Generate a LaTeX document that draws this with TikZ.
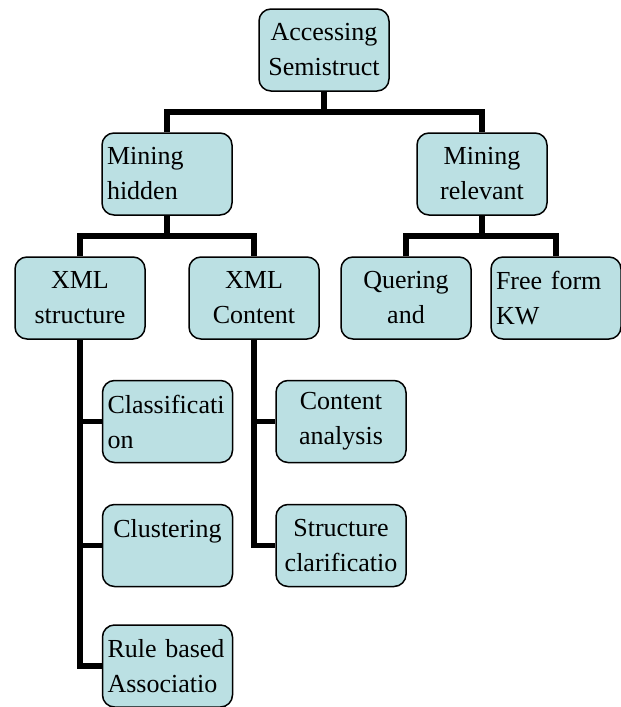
\documentclass[tikz,border=0pt]{standalone}
\usepackage{fontspec}
\setmainfont{Liberation Serif}
\usetikzlibrary{positioning, calc}
\definecolor{boxfill}{RGB}{187,224,227}

\begin{document}
\begin{tikzpicture}[
    x=1pt, y=-1pt,
    topic/.style={draw, fill=boxfill, rounded corners=12pt, line width=1.5pt,
        text width=120pt, inner xsep=5pt, inner ysep=0pt, minimum height=82pt,
        align=center, font=\fontsize{26}{35}\selectfont},
    link/.style={line width=5.5pt}
]
\useasboundingbox (0,0) rectangle (621,707);
% Top box
\node[topic] (root) at (324,50) {Accessing\\Semistruct};
% Second row
\node[topic, align=left] (hidden) at (167,174) {Mining\\hidden};
\node[topic] (relevant) at (482,174) {Mining\\relevant};
% Third row
\node[topic] (xmlstruct) at (80,298) {XML\\structure};
\node[topic] (xmlcont) at (254,298) {XML\\Content};
\node[topic] (quering) at (406,298) {Quering\\and};
\node[topic, align=left] (freeform) at (556,298) {Free form\\KW};
% Children of XML structure
\node[topic, align=left] (classif) at (167.5,421.5) {Classificati\\on};
\node[topic] (cluster) at (167.5,545.5) {Clustering\\\mbox{}};
\node[topic, align=left] (rule) at (167.5,666) {Rule based\\Associatio};
% Children of XML Content
\node[topic] (contana) at (341,421.5) {Content\\analysis};
\node[topic] (structclar) at (341,545.5) {Structure\\clarificatio};
% Tree connectors
\coordinate (rootbar) at ($(root.south)!0.5!(root.south |- hidden.north)$);
\draw[link] (root.south) -- (rootbar);
\draw[link] (hidden.north) |- (rootbar) -| (relevant.north);
\coordinate (hiddenbar) at ($(hidden.south)!0.5!(hidden.south |- xmlstruct.north)$);
\draw[link] (hidden.south) -- (hiddenbar);
\draw[link] (xmlstruct.north) |- (hiddenbar) -| (xmlcont.north);
\coordinate (relbar) at ($(relevant.south)!0.5!(relevant.south |- quering.north)$);
\draw[link] (relevant.south) -- (relbar);
\draw[link] (quering.north) |- (relbar) -| (freeform.north);
% Side connectors
\draw[link] (xmlstruct.south) |- (classif.west);
\draw[link] (xmlstruct.south) |- (cluster.west);
\draw[link] (xmlstruct.south) |- (rule.west);
\draw[link] (xmlcont.south) |- (contana.west);
\draw[link] (xmlcont.south) |- (structclar.west);
\end{tikzpicture}
\end{document}
